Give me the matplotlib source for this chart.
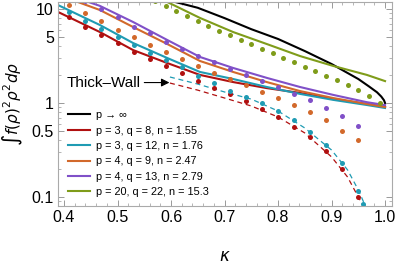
import matplotlib
matplotlib.use('Agg')
import matplotlib.pyplot as plt
from matplotlib.ticker import FixedLocator, NullFormatter, FixedFormatter

plt.rcParams['font.family'] = ['Liberation Sans', 'DejaVu Sans']

# colours
c_red = '#b01010'
c_cyan = '#1f9bb3'
c_orange = '#d2692b'
c_purple = '#8050c8'
c_green = '#7f9c1a'

# solid curves (approximation)
k_inf = [0.60, 0.65, 0.70, 0.75, 0.80, 0.85, 0.90, 0.95, 0.97, 0.985, 0.993, 0.998, 1.0]
v_inf = [12.2, 10.3, 8.0, 6.1, 4.8, 3.57, 2.6, 1.8, 1.5, 1.3, 1.17, 1.07, 1.0]

k_line = [0.389, 0.467, 0.529, 0.593, 0.654, 0.716, 0.779, 0.841, 0.903, 0.966, 1.0]
v_red = [9.29, 5.69, 3.66, 2.66, 1.99, 1.67, 1.44, 1.28, 1.10, 0.976, 0.906]
v_cyan = [11.0, 6.76, 4.35, 3.01, 2.14, 1.80, 1.48, 1.25, 1.08, 0.952, 0.885]

k_orange = [0.415, 0.467, 0.529, 0.593, 0.654, 0.716, 0.779, 0.841, 0.903, 0.966, 1.0]
v_orange = [12.5, 9.76, 6.44, 4.24, 2.80, 2.14, 1.67, 1.34, 1.13, 0.976, 0.906]
k_purple = [0.434, 0.467, 0.529, 0.593, 0.654, 0.716, 0.779, 0.841, 0.903, 0.966, 1.0]
v_purple = [12.5, 10.8, 7.28, 4.68, 3.09, 2.36, 1.85, 1.48, 1.22, 1.02, 0.95]

k_green = [0.58, 0.654, 0.716, 0.779, 0.841, 0.903, 0.966, 1.0]
v_green = [12.9, 8.04, 5.69, 4.24, 3.16, 2.48, 1.99, 1.71]

# thick-wall dashed curves
k_thick = [0.598, 0.65, 0.70, 0.75, 0.80, 0.85, 0.90, 0.93, 0.95, 0.965]
v_thick_red = [1.63, 1.37, 1.13, 0.929, 0.71, 0.48, 0.267, 0.163, 0.10, 0.07]
v_thick_cyan = [1.89, 1.59, 1.31, 1.10, 0.822, 0.542, 0.316, 0.194, 0.119, 0.076]

# numerical points
k_pts = [0.41, 0.44, 0.47, 0.50, 0.53, 0.56, 0.59, 0.62, 0.65, 0.68,
         0.71, 0.74, 0.77, 0.80, 0.83, 0.86, 0.89, 0.92, 0.95]
p_red = [8.22, 6.44, 5.29, 4.35, 3.49, 2.94, 2.48, 2.08, 1.71, 1.44,
         1.25, 1.05, 0.863, 0.71, 0.556, 0.435, 0.309, 0.199, 0.10]
k_pts_cyan = k_pts + [0.958]
p_cyan = [9.29, 7.45, 6.13, 5.04, 4.14, 3.40, 2.87, 2.42, 1.94, 1.63,
          1.34, 1.16, 1.0, 0.822, 0.66, 0.491, 0.357, 0.23, 0.116, 0.084]
p_orange = [11.0, 9.06, 7.45, 5.98, 5.04, 4.14, 3.49, 2.94, 2.48, 2.08,
            1.80, 1.55, 1.31, 1.13, 0.952, 0.802, 0.66, 0.504, 0.40]
p_purple = [12.5, 12.1, 10.0, 8.22, 6.44, 5.55, 4.46, 3.75, 3.16, 2.73,
            2.30, 1.99, 1.71, 1.48, 1.25, 1.08, 0.885, 0.727, 0.569]
k_pts_green = [0.57, 0.59, 0.61, 0.63, 0.65, 0.67, 0.69, 0.71, 0.73, 0.75, 0.77,
               0.79, 0.81, 0.83, 0.85, 0.87, 0.89, 0.91, 0.93, 0.95, 0.97, 0.99]
p_green = [12.2, 10.8, 9.52, 8.42, 7.45, 6.59, 5.83, 5.29, 4.68, 4.24, 3.75,
           3.40, 3.01, 2.73, 2.42, 2.19, 1.94, 1.76, 1.55, 1.38, 1.19, 1.0]

labels = ['p \u2192 \u221e', 'p = 3, q = 8, n = 1.55', 'p = 3, q = 12, n = 1.76',
          'p = 4, q = 9, n = 2.47', 'p = 4, q = 13, n = 2.79', 'p = 20, q = 22, n = 15.3']

fig = plt.figure(figsize=(3.99, 2.65), dpi=100)
ax = fig.add_axes([58 / 399, 1 - 206 / 265, 334 / 399, 204 / 265])
ax.set_yscale('log')

lw = 1.5
ax.plot(k_inf, v_inf, color='black', lw=lw, label=labels[0])
ax.plot(k_line, v_red, color=c_red, lw=lw, label=labels[1])
ax.plot(k_line, v_cyan, color=c_cyan, lw=lw, label=labels[2])
ax.plot(k_orange, v_orange, color=c_orange, lw=lw, label=labels[3])
ax.plot(k_purple, v_purple, color=c_purple, lw=lw, label=labels[4])
ax.plot(k_green, v_green, color=c_green, lw=lw, label=labels[5])

ax.plot(k_thick, v_thick_red, color=c_red, lw=0.9, ls=(0, (4, 3)))
ax.plot(k_thick, v_thick_cyan, color=c_cyan, lw=0.9, ls=(0, (4, 3)))

ms = 3.6
ax.plot(k_pts, p_red, 'o', color=c_red, ms=ms, mew=0)
ax.plot(k_pts_cyan, p_cyan, 'o', color=c_cyan, ms=ms, mew=0)
ax.plot(k_pts, p_orange, 'o', color=c_orange, ms=ms, mew=0)
ax.plot(k_pts, p_purple, 'o', color=c_purple, ms=ms, mew=0)
ax.plot(k_pts_green, p_green, 'o', color=c_green, ms=ms, mew=0)

ax.annotate('Thick\u2013Wall', xy=(0.597, 1.65), xytext=(0.404, 1.65),
            fontsize=11, va='center', ha='left',
            arrowprops=dict(arrowstyle='-|>', color='black', lw=0.8,
                            mutation_scale=12, shrinkA=1, shrinkB=0))

ax.set_xlim(0.3888, 1.013)
ax.set_ylim(0.0802, 11.87)

ax.set_xticks([0.4, 0.5, 0.6, 0.7, 0.8, 0.9, 1.0])
ax.set_xticklabels(['0.4', '0.5', '0.6', '0.7', '0.8', '0.9', '1.0'])
ax.xaxis.set_minor_locator(FixedLocator([0.40 + 0.02 * i for i in range(31)]))
ax.yaxis.set_major_locator(FixedLocator([0.1, 0.5, 1, 5, 10]))
ax.yaxis.set_major_formatter(FixedFormatter(['0.1', '0.5', '1', '5', '10']))
ax.yaxis.set_minor_locator(FixedLocator([0.09, 0.2, 0.3, 0.4, 0.6, 0.7, 0.8, 0.9,
                                         2, 3, 4, 6, 7, 8, 9]))
ax.yaxis.set_minor_formatter(NullFormatter())

ax.tick_params(which='both', direction='in', top=True, right=True,
               color='#999999', labelsize=11.5, pad=3)
ax.tick_params(which='major', length=4, width=0.7)
ax.tick_params(which='minor', length=2, width=0.5)
for s in ax.spines.values():
    s.set_color('#aaaaaa')
    s.set_linewidth(0.8)

ax.set_xlabel(r'$\kappa$', fontsize=12, labelpad=17)
ax.set_ylabel(r'$\int f(\rho)^2\rho^2 d\rho$', fontsize=11, labelpad=5)

ax.legend(loc='upper left', bbox_to_anchor=(0.03, 0.47), frameon=False,
          fontsize=7.8, handlelength=2.0, handletextpad=0.6,
          labelspacing=0.5, borderpad=0, borderaxespad=0)

fig.savefig('out.png', dpi=100)
